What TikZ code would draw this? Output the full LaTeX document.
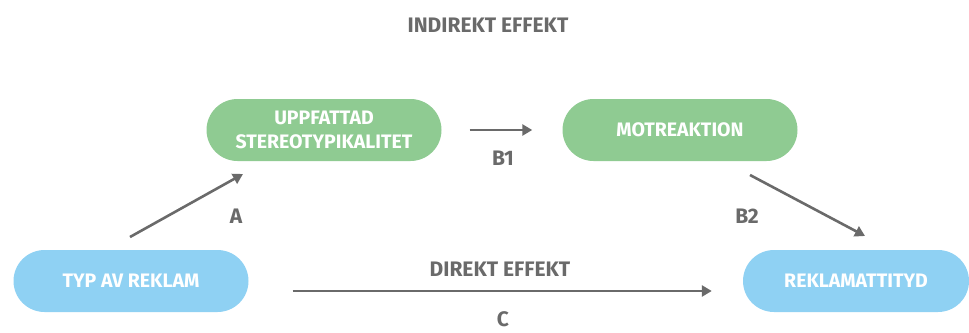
\documentclass[tikz,border=0pt]{standalone}
\usepackage{fontspec}
\setmainfont{Fira Sans}[BoldFont={* Bold}]
\usetikzlibrary{arrows.meta}
\definecolor{pillgreen}{HTML}{8FCB92}
\definecolor{pillblue}{HTML}{8FD1F3}
\definecolor{inkgray}{HTML}{6A6A6A}
\tikzset{
  pill/.style={rectangle, rounded corners=31pt, minimum width=235pt, minimum height=62pt,
    text=white, font=\bfseries\fontsize{19.5}{24}\selectfont, align=center, inner sep=0pt},
  greenpill/.style={pill, fill=pillgreen},
  bluepill/.style={pill, fill=pillblue},
  tag/.style={text=inkgray, font=\bfseries\fontsize{21}{24}\selectfont, inner sep=0pt},
  link/.style={draw=inkgray, line width=2.6pt, -{Triangle[length=10pt,width=11pt]}}
}
\begin{document}
\begin{tikzpicture}[x=1pt,y=-1pt]
  \useasboundingbox (0,0) rectangle (969,332);
  \node[tag] (indirekt) at (488,25) {INDIREKT EFFEKT};
  \node[greenpill] (uppf) at (324,130) {UPPFATTAD\\STEREOTYPIKALITET};
  \node[greenpill] (motr) at (680,130) {MOTREAKTION};
  \node[bluepill] (typ) at (131,281) {TYP AV REKLAM};
  \node[bluepill, minimum width=226pt] (attityd) at (856,281) {REKLAMATTITYD};
  \node[tag] (la) at (236,216) {A};
  \node[tag] (lb1) at (503,158) {B1};
  \node[tag] (lb2) at (747,216) {B2};
  \node[tag] (direkt) at (500,269) {DIREKT EFFEKT};
  \node[tag, anchor=base] (lc) at (503,326) {C};
  % free ends of the slanted connectors
  \coordinate (aStart) at (130,237);
  \coordinate (aEnd) at (243,174);
  \coordinate (b2Start) at (750,175);
  \coordinate (b2End) at (865,236);
  \draw[link] (aStart) -- (aEnd);
  \draw[link, shorten <=28pt, shorten >=30pt] (uppf.east) -- (motr.west);
  \draw[link] (b2Start) -- (b2End);
  \draw[link, shorten <=44pt, shorten >=31pt] ([yshift=-10pt]typ.east) -- ([yshift=-10pt]attityd.west);
\end{tikzpicture}
\end{document}
